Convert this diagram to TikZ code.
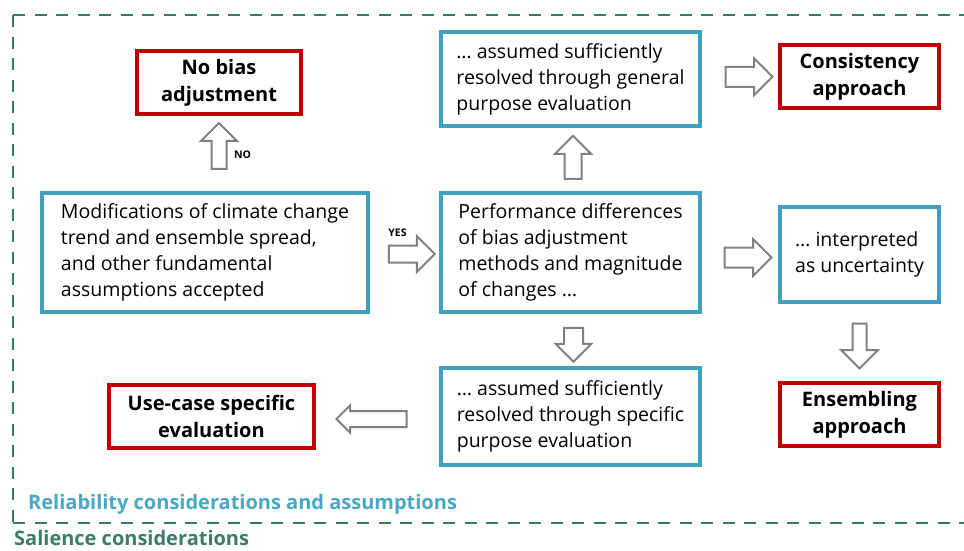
\documentclass[tikz,border=0pt]{standalone}
\usepackage{fontspec}
\setmainfont{Open Sans}
\usetikzlibrary{shapes.arrows,calc}

\definecolor{boxblue}{RGB}{64,160,190}
\definecolor{boxred}{RGB}{192,0,0}
\definecolor{arrowgray}{RGB}{128,128,128}
\definecolor{dashgreen}{RGB}{47,127,108}
\definecolor{salgreen}{RGB}{60,124,106}
\definecolor{relblue}{RGB}{72,166,198}

\begin{document}
\begin{tikzpicture}[x=1pt,y=-1pt,
  bluebox/.style={draw=boxblue, line width=3.2pt, fill=white, inner sep=0pt,
    align=left, font=\fontsize{19.5}{26}\selectfont},
  redbox/.style={draw=boxred, line width=3.2pt, fill=white, inner sep=0pt,
    align=center, font=\fontsize{20}{27}\selectfont\bfseries},
  blockarrow/.style n args={3}{single arrow, draw=arrowgray, fill=white,
    line width=2pt, inner xsep=0pt, inner ysep=#1, text height=0pt,
    text depth=0pt, single arrow head extend=#2, minimum height=#3,
    minimum width=0pt},
  tag/.style={font=\fontsize{10.5}{12}\selectfont\bfseries, inner sep=0pt},
  caption/.style={font=\fontsize{20}{22}\selectfont\bfseries, inner sep=0pt, anchor=base west}
]
\path[use as bounding box] (0,0) rectangle (964,550);

% outer salience frame (open to the right)
\draw[dashgreen, line width=2.8pt, dash pattern=on 12pt off 9.5pt]
  (13,15) -- (964,15);
\draw[dashgreen, line width=2.8pt, dash pattern=on 12pt off 9.5pt]
  (13,15) -- (13,523);
\draw[dashgreen, line width=2.8pt, dash pattern=on 12pt off 9.5pt]
  (13,523) -- (964,523);

% boxes
\node[redbox, minimum width=164pt, minimum height=63pt] (nobias) at (219,82.5)
  {No bias\\adjustment};
\node[bluebox, minimum width=326pt, minimum height=119pt] (mod) at (205,252.5)
  {Modifications of climate change\\trend and ensemble spread,\\and other fundamental\\assumptions accepted};
\node[bluebox, minimum width=259pt, minimum height=119pt] (perf) at (570.5,252.5)
  {Performance differences\\of bias adjustment\\methods and magnitude\\of changes \dots};
\node[bluebox, minimum width=259pt, minimum height=94pt] (gen) at (570.5,79)
  {\dots\ assumed sufficiently\\resolved through general\\purpose evaluation};
\node[bluebox, minimum width=259pt, minimum height=97pt] (spec) at (570.5,416.5)
  {\dots\ assumed sufficiently\\resolved through specific\\purpose evaluation};
\node[bluebox, minimum width=159pt, minimum height=95pt] (interp) at (859.5,254.5)
  {\dots\ interpreted\\as uncertainty};
\node[redbox, minimum width=159pt, minimum height=63pt] (cons) at (859.5,76.5)
  {Consistency\\approach};
\node[redbox, minimum width=159pt, minimum height=63pt] (ens) at (859.5,414.5)
  {Ensembling\\approach};
\node[redbox, minimum width=205pt, minimum height=63pt] (usecase) at (211.5,416.5)
  {Use-case specific\\evaluation};

% block arrows between boxes
\node[blockarrow={6.5pt}{10.5pt}{46pt}, rotate=90] (aNo)
  at ($(nobias.south)!0.45!(nobias.south|-mod.north)$) {};
\node[blockarrow={7.5pt}{9.5pt}{46pt}] (aYes)
  at ($(mod.east)!0.5!(perf.west)+(3,1.5)$) {};
\node[blockarrow={7.5pt}{9.5pt}{43pt}, rotate=90] (aGen)
  at ($(gen.south)!0.5!(perf.north)+(2.5,2)$) {};
\node[blockarrow={8.5pt}{8.5pt}{34pt}, rotate=-90] (aSpec)
  at ($(perf.south)!0.5!(spec.north)+(3,0)$) {};
\node[blockarrow={9pt}{8.5pt}{47pt}] (aCons)
  at ($(gen.east)!0.5!(cons.west)+(4,-1)$) {};
\node[blockarrow={9pt}{8.5pt}{47pt}] (aInterp)
  at ($(perf.east)!0.5!(interp.west)+(3,4)$) {};
\node[blockarrow={6pt}{11.5pt}{45pt}, rotate=-90] (aEns)
  at ($(interp.south)!0.5!(ens.north)$) {};
\node[blockarrow={7pt}{5.5pt}{70pt}, rotate=180] (aUse)
  at ($(spec.west)!0.5!(usecase.east)+(-2,2.5)$) {};

% decision labels
\node[tag, anchor=west] (lNo) at ($(aNo.center)+(15,5)$) {NO};
\node[tag] (lYes) at ($(aYes.center)+(-10,-21)$) {YES};

% frame captions
\node[caption, text=relblue] (rel) at (28,509) {Reliability considerations and assumptions};
\node[caption, text=salgreen] (sal) at (14,545) {Salience considerations};
\end{tikzpicture}
\end{document}
